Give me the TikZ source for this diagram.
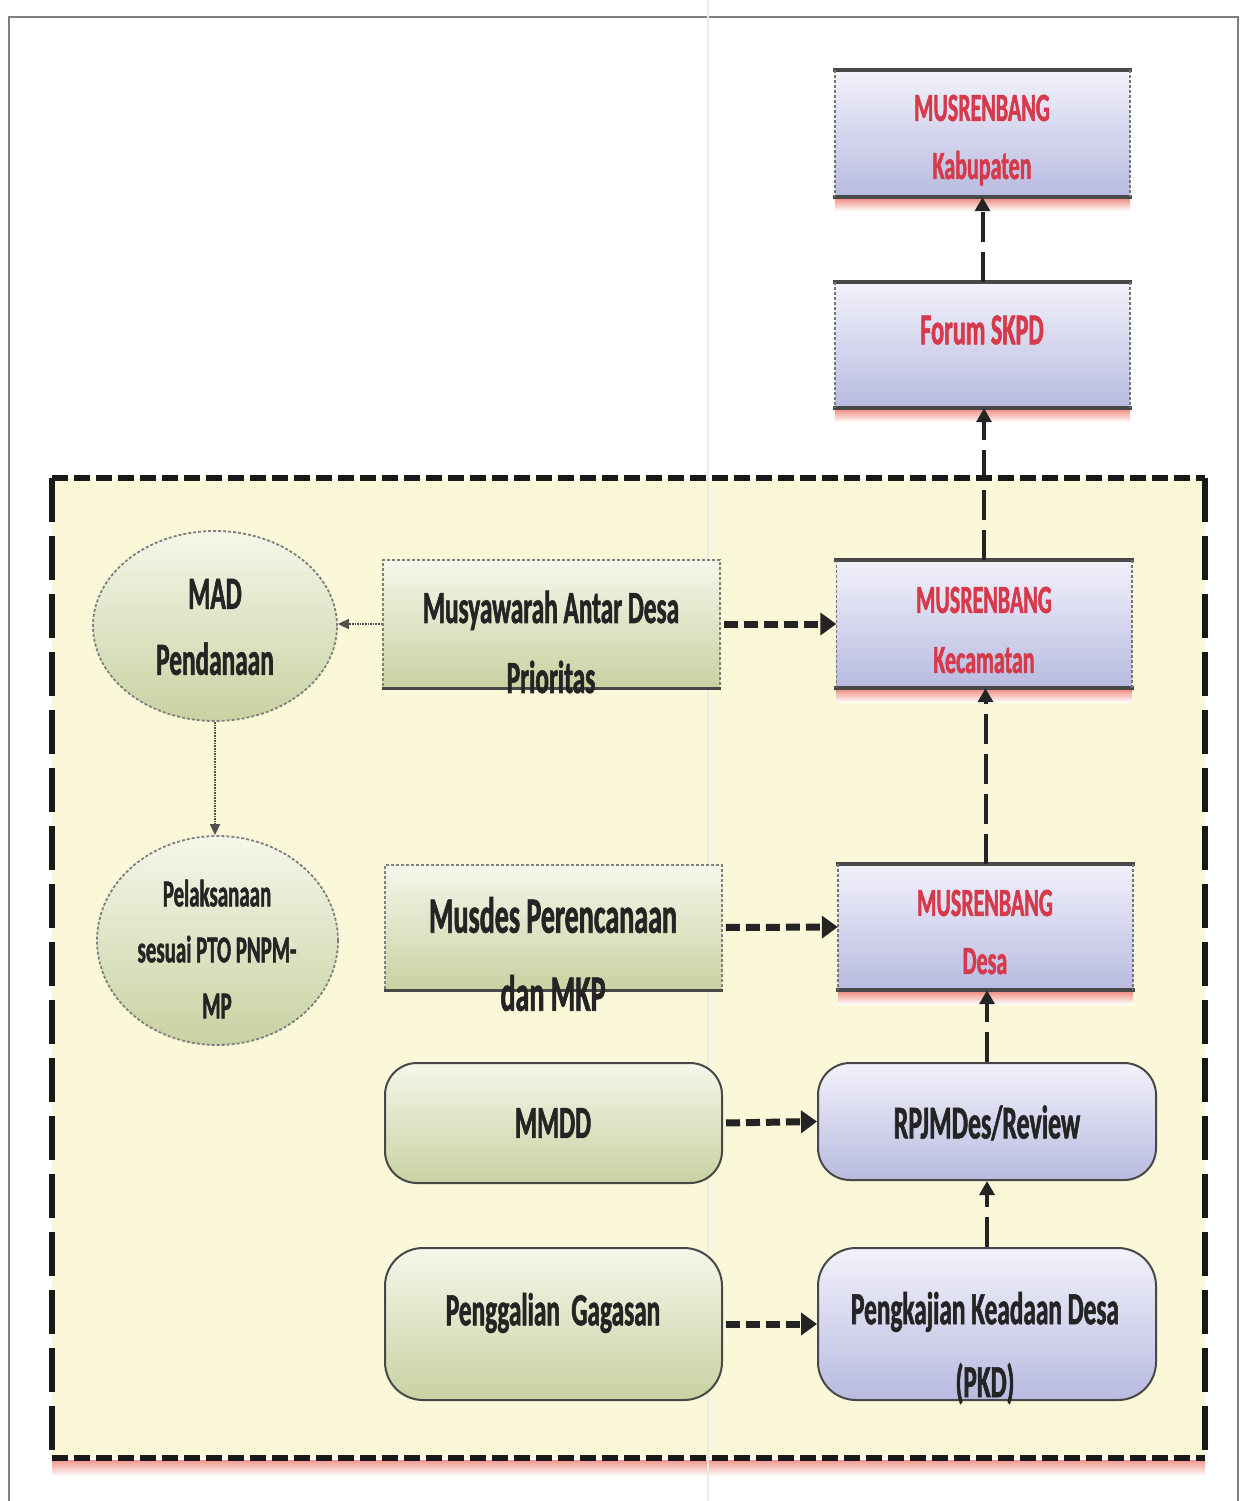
\documentclass[tikz,border=0pt]{standalone}
\usepackage{fontspec}
\setmainfont{Carlito}[FakeStretch=0.55, FakeBold=1.2]
\usetikzlibrary{arrows.meta,shapes.geometric}
\definecolor{cream}{RGB}{250,248,216}
\definecolor{gtop}{RGB}{245,247,234}
\definecolor{gbot}{RGB}{200,210,162}
\definecolor{btop}{RGB}{242,242,251}
\definecolor{bbot}{RGB}{184,186,224}
\definecolor{redtxt}{RGB}{214,58,74}
\definecolor{darktxt}{RGB}{36,36,36}
\definecolor{edgec}{RGB}{72,72,72}
\definecolor{glow}{RGB}{240,150,140}
\newcommand\fsz[2]{\fontsize{#1}{#2}\selectfont}
\newcommand\rectborder[1]{%
  \draw[line width=4pt, edgec, line cap=rect] (#1.north west) -- (#1.north east);
  \draw[line width=4pt, edgec, line cap=rect] (#1.south west) -- (#1.south east);
  \draw[line width=1.6pt, edgec!75, densely dashed] (#1.north west) -- (#1.south west) (#1.north east) -- (#1.south east);}
\newcommand\glowunder[1]{%
  \fill[top color=glow, bottom color=white] ([yshift=-2pt]#1.south west) rectangle ([yshift=-14pt]#1.south east);}
\begin{document}
\begin{tikzpicture}[x=1pt,y=-1pt,
  bluerect/.style={rectangle, top color=btop, bottom color=bbot, minimum width=295pt, inner sep=0},
  bluernd/.style={rectangle, rounded corners=32pt, top color=btop, bottom color=bbot, draw=edgec, line width=2pt, minimum width=338pt, inner sep=0},
  greenrect/.style={rectangle, top color=gtop, bottom color=gbot, draw=edgec!70, line width=1.6pt, densely dashed, minimum width=337pt, inner sep=0},
  greenrnd/.style={rectangle, rounded corners=32pt, top color=gtop, bottom color=gbot, draw=edgec, line width=2pt, minimum width=337pt, inner sep=0},
  greenell/.style={ellipse, top color=gtop, bottom color=gbot, draw=edgec!70, line width=1.8pt, densely dashed, inner sep=0},
  txt/.style={align=center, inner sep=0, text=darktxt, font=\bfseries},
  redt/.style={align=center, inner sep=0, text=redtxt, font=\bfseries},
  bigdash/.style={line width=7pt, darktxt, dash pattern=on 14pt off 6pt, shorten <=3pt, -{Triangle[length=16pt,width=22pt]}},
  vdash/.style={line width=4pt, darktxt, dash pattern=on 30pt off 10pt, -{Triangle[length=14pt,width=15pt]}},
  dotarrow/.style={line width=1.6pt, darktxt!80, densely dotted, -{Triangle[length=11pt,width=10pt]}}
]
\useasboundingbox (0,0) rectangle (1244,1501);
\fill[white] (0,0) rectangle (1244,1501);
% outer frame
\draw[edgec!70, line width=1.6pt] (9,1501) -- (9,17) -- (1238,17) -- (1238,1501);
% yellow area
\fill[top color=glow, bottom color=white] (52,1460) rectangle (1205,1476);
\fill[cream] (52,478) rectangle (1205,1458);
\draw[black!8, line width=2pt] (708,0) -- (708,1501);

% upper blue boxes
\node[bluerect, minimum height=127pt] (kab) at (982.5,133.5) {};
\node[bluerect, minimum height=126pt] (forum) at (982.5,345) {};
\node[bluerect, minimum height=128pt] (kec) at (984,624) {};
\node[bluerect, minimum height=126pt] (desa) at (985.5,927) {};
\foreach \n in {kab,forum,kec,desa}{\glowunder{\n}\rectborder{\n}}
\node[bluernd, minimum height=117pt] (rpjm) at (987,1121.5) {};
\node[bluernd, minimum height=152pt, rounded corners=38pt] (pkd) at (987,1324) {};

% green boxes
\node[greenrect, minimum height=128pt] (antar) at (551.5,624) {};
\node[greenrect, minimum height=125pt] (musdes) at (553.5,927.5) {};
\draw[line width=3pt, edgec] (antar.south west) -- (antar.south east);
\draw[line width=3pt, edgec] (musdes.south west) -- (musdes.south east);
\node[greenrnd, minimum height=120pt] (mmdd) at (553.5,1123) {};
\node[greenrnd, minimum height=152pt, rounded corners=38pt] (gali) at (553.5,1324) {};
\node[greenell, minimum width=244pt, minimum height=190pt] (mad) at (215,626) {};
\node[greenell, minimum width=241pt, minimum height=209pt] (pel) at (217.5,940.5) {};

% texts
\node[redt, font=\bfseries\fsz{40}{58}] (kab-t) at (982,140) {MUSRENBANG\\Kabupaten};
\node[redt, font=\bfseries\fsz{44}{50}] (forum-t) at (982,330) {Forum SKPD};
\node[redt, font=\bfseries\fsz{40}{60}] (kec-t) at (984,630) {MUSRENBANG\\Kecamatan};
\node[redt, font=\bfseries\fsz{40}{58}] (desa-t) at (985,932) {MUSRENBANG\\Desa};
\node[txt, font=\bfseries\fsz{46}{70}] (antar-t) at (551,642) {Musyawarah Antar Desa\\Prioritas};
\node[txt, font=\bfseries\fsz{46}{66}] (mad-t) at (215,627) {MAD\\Pendanaan};
\node[txt, font=\bfseries\fsz{38}{56}] (pel-t) at (217,949) {Pelaksanaan\\sesuai PTO PNPM-\\MP};
\node[txt, font=\bfseries\fsz{51}{78}] (musdes-t) at (553,954) {Musdes Perencanaan\\dan MKP};
\node[txt, font=\bfseries\fsz{46}{56}] (mmdd-t) at (553,1123) {MMDD};
\node[txt, font=\bfseries\fsz{47}{56}] (rpjm-t) at (987,1123) {RPJMDes/Review};
\node[txt, font=\bfseries\fsz{46}{56}] (gali-t) at (553,1313) {Penggalian\ \ Gagasan};
\node[txt, font=\bfseries\fsz{46}{73}] (pkd-t) at (985,1348) {Pengkajian Keadaan Desa\\(PKD)};

% connectors
\draw[bigdash] (antar.east) -- (kec.west);
\draw[bigdash] (musdes.east) -- (desa.west);
\draw[bigdash] (mmdd.east) -- (rpjm.west);
\draw[bigdash] (gali.east) -- (pkd.west);
\draw[vdash] (pkd.north) -- (pkd.north |- rpjm.south);
\draw[vdash] (rpjm.north) -- (rpjm.north |- desa.south);
\draw[vdash] (desa.north) -- (desa.north |- kec.south);
\draw[vdash] (kec.north) -- (kec.north |- forum.south);
\draw[vdash] (forum.north) -- (forum.north |- kab.south);
\draw[dotarrow] (antar.west) -- (antar.west -| mad.east);
\draw[dotarrow] (mad.south) -- (mad.south |- pel.north);

% dashed frame of the yellow area
\draw[line width=6pt, black!90, dash pattern=on 16pt off 6pt] (52,478) -- (1205,478);
\draw[line width=6pt, black!90, dash pattern=on 16pt off 6pt] (52,1458) -- (1205,1458);
\draw[line width=6pt, black!90, dash pattern=on 44pt off 14pt] (52,478) -- (52,1458);
\draw[line width=6pt, black!90, dash pattern=on 44pt off 14pt] (1205,478) -- (1205,1458);
\end{tikzpicture}
\end{document}
